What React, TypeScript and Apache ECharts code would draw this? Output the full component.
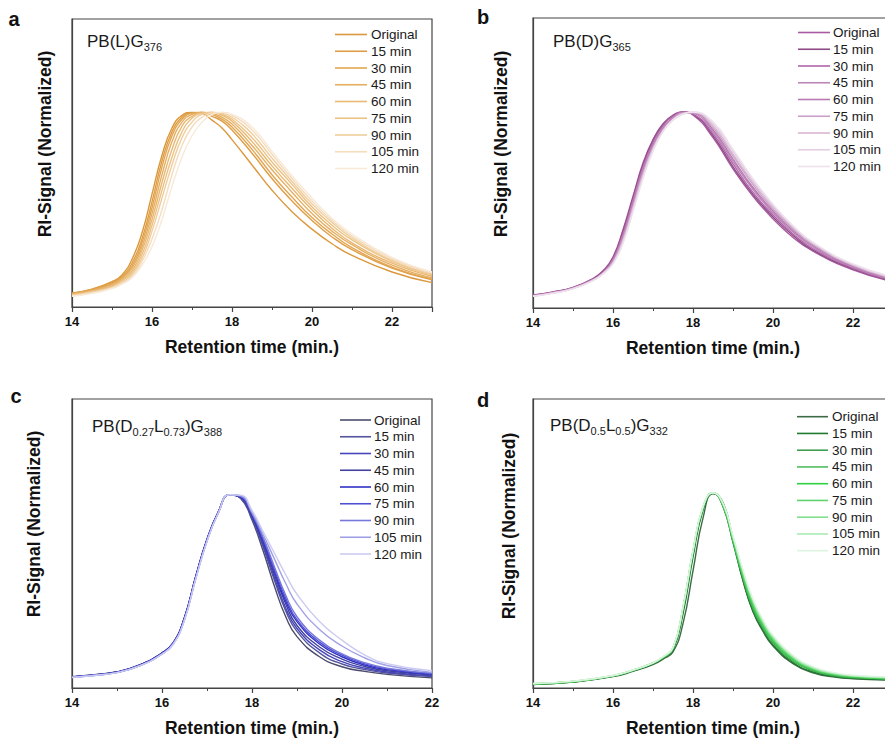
import React, { useEffect, useRef } from 'react';
import * as echarts from 'echarts';

const LEGEND_LABELS = ['Original', '15 min', '30 min', '45 min', '60 min', '75 min', '90 min', '105 min', '120 min'];
const X_TICK_INTERVAL = 2;

// Panel a: PB(L)G376
const A_X = [14, 14.5, 15, 15.25, 15.5, 15.75, 16, 16.25, 16.5, 16.75, 17, 17.25, 17.5, 17.75, 18, 18.5, 19, 19.5, 20, 20.5, 21, 22, 23];
const A_Y = [
  [0.072, 0.092, 0.13, 0.165, 0.245, 0.38, 0.58, 0.78, 0.92, 0.985, 1.0, 0.995, 0.96, 0.92, 0.86, 0.73, 0.6, 0.49, 0.4, 0.325, 0.265, 0.18, 0.125],
  [0.07, 0.09, 0.125, 0.158, 0.225, 0.35, 0.54, 0.75, 0.9, 0.975, 0.998, 1.0, 0.98, 0.955, 0.91, 0.79, 0.66, 0.545, 0.445, 0.36, 0.295, 0.2, 0.14],
  [0.068, 0.088, 0.12, 0.152, 0.21, 0.33, 0.51, 0.72, 0.88, 0.965, 0.995, 1.0, 0.99, 0.965, 0.925, 0.81, 0.68, 0.565, 0.46, 0.375, 0.305, 0.205, 0.145],
  [0.066, 0.085, 0.115, 0.146, 0.198, 0.31, 0.48, 0.68, 0.85, 0.95, 0.99, 1.0, 0.995, 0.975, 0.94, 0.83, 0.705, 0.59, 0.48, 0.39, 0.32, 0.215, 0.15],
  [0.064, 0.082, 0.11, 0.14, 0.186, 0.29, 0.45, 0.64, 0.81, 0.93, 0.98, 0.998, 1.0, 0.985, 0.955, 0.85, 0.725, 0.61, 0.5, 0.405, 0.33, 0.225, 0.158],
  [0.062, 0.079, 0.105, 0.134, 0.175, 0.268, 0.42, 0.6, 0.77, 0.9, 0.97, 0.995, 1.0, 0.99, 0.965, 0.87, 0.745, 0.63, 0.515, 0.42, 0.345, 0.235, 0.165],
  [0.06, 0.076, 0.1, 0.128, 0.166, 0.25, 0.39, 0.56, 0.73, 0.87, 0.95, 0.99, 1.0, 0.995, 0.975, 0.89, 0.765, 0.645, 0.53, 0.435, 0.355, 0.24, 0.17],
  [0.058, 0.073, 0.098, 0.123, 0.157, 0.234, 0.35, 0.5, 0.68, 0.83, 0.925, 0.975, 0.997, 1.0, 0.985, 0.91, 0.785, 0.66, 0.545, 0.445, 0.365, 0.248, 0.175],
  [0.055, 0.07, 0.095, 0.118, 0.15, 0.215, 0.31, 0.45, 0.62, 0.77, 0.88, 0.95, 0.99, 1.0, 0.99, 0.925, 0.8, 0.675, 0.56, 0.455, 0.375, 0.255, 0.18],
];
const A_COLORS = ['#DC983C', '#DF9E45', '#E2A652', '#E5AE60', '#E9B872', '#ECC284', '#F0CD9C', '#F4DCBC', '#F8E9D6'];

// Panel b: PB(D)G365
const B_X = [14, 14.5, 15, 15.5, 15.75, 16, 16.25, 16.5, 16.75, 17, 17.25, 17.5, 17.75, 18, 18.5, 19, 19.5, 20, 20.5, 21, 22, 23];
const B_Y = [
  [0.066, 0.082, 0.105, 0.15, 0.19, 0.26, 0.4, 0.57, 0.74, 0.86, 0.94, 0.985, 1.0, 0.985, 0.87, 0.71, 0.57, 0.455, 0.36, 0.29, 0.195, 0.135],
  [0.065, 0.081, 0.104, 0.148, 0.186, 0.255, 0.39, 0.56, 0.73, 0.855, 0.935, 0.98, 1.0, 0.988, 0.88, 0.72, 0.58, 0.465, 0.37, 0.295, 0.2, 0.138],
  [0.064, 0.08, 0.103, 0.146, 0.183, 0.25, 0.38, 0.55, 0.72, 0.845, 0.93, 0.978, 1.0, 0.99, 0.89, 0.735, 0.59, 0.475, 0.378, 0.302, 0.204, 0.14],
  [0.063, 0.079, 0.102, 0.145, 0.18, 0.245, 0.37, 0.54, 0.71, 0.835, 0.92, 0.972, 0.998, 0.993, 0.9, 0.748, 0.605, 0.485, 0.388, 0.31, 0.208, 0.145],
  [0.063, 0.078, 0.101, 0.144, 0.178, 0.24, 0.36, 0.53, 0.7, 0.83, 0.915, 0.968, 0.996, 0.995, 0.91, 0.76, 0.615, 0.495, 0.396, 0.317, 0.212, 0.148],
  [0.062, 0.077, 0.1, 0.143, 0.177, 0.236, 0.355, 0.52, 0.69, 0.82, 0.91, 0.965, 0.995, 0.997, 0.92, 0.775, 0.63, 0.505, 0.405, 0.323, 0.216, 0.15],
  [0.061, 0.077, 0.1, 0.142, 0.176, 0.232, 0.345, 0.51, 0.68, 0.815, 0.905, 0.962, 0.993, 0.998, 0.93, 0.785, 0.64, 0.515, 0.41, 0.328, 0.22, 0.153],
  [0.06, 0.076, 0.099, 0.141, 0.175, 0.228, 0.338, 0.5, 0.67, 0.807, 0.902, 0.96, 0.99, 1.0, 0.94, 0.8, 0.65, 0.523, 0.417, 0.332, 0.222, 0.156],
  [0.06, 0.075, 0.098, 0.14, 0.175, 0.225, 0.33, 0.49, 0.66, 0.8, 0.9, 0.96, 0.99, 1.0, 0.95, 0.81, 0.66, 0.53, 0.42, 0.335, 0.225, 0.16],
];
const B_COLORS = ['#A9599F', '#8F4B87', '#B066A9', '#BD86B8', '#B879B2', '#CB9FC6', '#D7B6D4', '#E3CDE1', '#EEE1ED'];

// Panel c: PB(D0.27L0.73)G388
const C_X = [14, 14.5, 15, 15.5, 16, 16.25, 16.5, 16.75, 17, 17.25, 17.5, 17.75, 18, 18.25, 18.5, 18.75, 19, 19.5, 20, 20.5, 21, 22];
const C_Y = [
  [0.058, 0.068, 0.083, 0.118, 0.18, 0.232, 0.36, 0.57, 0.76, 0.9, 0.99, 0.97, 0.86, 0.7, 0.52, 0.365, 0.263, 0.16, 0.109, 0.085, 0.07, 0.052],
  [0.057, 0.067, 0.082, 0.117, 0.178, 0.23, 0.358, 0.568, 0.758, 0.9, 0.99, 0.972, 0.87, 0.72, 0.55, 0.395, 0.29, 0.18, 0.123, 0.095, 0.077, 0.058],
  [0.057, 0.067, 0.082, 0.117, 0.179, 0.232, 0.362, 0.572, 0.762, 0.902, 0.99, 0.974, 0.875, 0.73, 0.565, 0.41, 0.305, 0.195, 0.135, 0.102, 0.082, 0.062],
  [0.056, 0.066, 0.081, 0.116, 0.177, 0.229, 0.357, 0.566, 0.757, 0.899, 0.99, 0.976, 0.88, 0.74, 0.58, 0.43, 0.32, 0.21, 0.148, 0.11, 0.088, 0.066],
  [0.056, 0.066, 0.081, 0.116, 0.178, 0.231, 0.36, 0.57, 0.76, 0.9, 0.99, 0.978, 0.885, 0.75, 0.595, 0.445, 0.34, 0.225, 0.16, 0.118, 0.094, 0.07],
  [0.055, 0.065, 0.08, 0.115, 0.176, 0.228, 0.355, 0.565, 0.756, 0.898, 0.99, 0.98, 0.89, 0.76, 0.605, 0.46, 0.35, 0.235, 0.168, 0.124, 0.098, 0.073],
  [0.055, 0.065, 0.08, 0.114, 0.175, 0.227, 0.352, 0.562, 0.754, 0.897, 0.99, 0.982, 0.895, 0.77, 0.62, 0.475, 0.365, 0.245, 0.175, 0.13, 0.102, 0.076],
  [0.054, 0.064, 0.079, 0.113, 0.174, 0.225, 0.35, 0.56, 0.752, 0.896, 0.99, 0.985, 0.9, 0.785, 0.66, 0.535, 0.43, 0.3, 0.215, 0.155, 0.115, 0.08],
  [0.054, 0.064, 0.079, 0.113, 0.173, 0.224, 0.348, 0.558, 0.75, 0.895, 0.99, 0.988, 0.91, 0.8, 0.69, 0.58, 0.48, 0.34, 0.245, 0.17, 0.125, 0.088],
];
const C_COLORS = ['#4C4C6C', '#55559E', '#4646BA', '#43439F', '#3030C6', '#5050D2', '#7777DC', '#A0A0E7', '#CBCBF2'];

// Panel d: PB(D0.5L0.5)G332
const D_X = [14, 15, 16, 16.5, 17, 17.25, 17.5, 17.75, 18, 18.25, 18.5, 18.75, 19, 19.25, 19.5, 19.75, 20, 20.5, 21, 21.5, 22, 23];
const D_Y = [
  [0.018, 0.03, 0.058, 0.085, 0.12, 0.148, 0.185, 0.33, 0.6, 0.87, 0.995, 0.95, 0.76, 0.55, 0.39, 0.29, 0.215, 0.125, 0.078, 0.057, 0.047, 0.04],
  [0.02, 0.031, 0.06, 0.088, 0.125, 0.153, 0.195, 0.38, 0.67, 0.91, 1.0, 0.93, 0.745, 0.55, 0.395, 0.295, 0.22, 0.13, 0.082, 0.06, 0.05, 0.042],
  [0.02, 0.032, 0.061, 0.089, 0.126, 0.155, 0.2, 0.4, 0.69, 0.92, 1.0, 0.93, 0.75, 0.56, 0.405, 0.305, 0.23, 0.137, 0.088, 0.064, 0.053, 0.045],
  [0.021, 0.032, 0.062, 0.09, 0.127, 0.156, 0.202, 0.405, 0.695, 0.922, 1.0, 0.935, 0.755, 0.57, 0.415, 0.315, 0.238, 0.143, 0.092, 0.067, 0.055, 0.047],
  [0.021, 0.033, 0.062, 0.09, 0.127, 0.157, 0.203, 0.41, 0.7, 0.925, 1.0, 0.935, 0.76, 0.575, 0.42, 0.32, 0.243, 0.148, 0.095, 0.07, 0.057, 0.048],
  [0.022, 0.033, 0.063, 0.091, 0.128, 0.158, 0.205, 0.41, 0.7, 0.925, 1.0, 0.94, 0.765, 0.58, 0.43, 0.328, 0.25, 0.152, 0.098, 0.072, 0.059, 0.05],
  [0.022, 0.034, 0.063, 0.091, 0.128, 0.158, 0.205, 0.412, 0.702, 0.926, 1.0, 0.94, 0.77, 0.59, 0.44, 0.335, 0.257, 0.157, 0.101, 0.074, 0.061, 0.052],
  [0.023, 0.034, 0.064, 0.092, 0.129, 0.159, 0.206, 0.415, 0.705, 0.928, 1.0, 0.945, 0.775, 0.6, 0.45, 0.342, 0.263, 0.162, 0.104, 0.076, 0.063, 0.054],
  [0.023, 0.035, 0.064, 0.092, 0.129, 0.16, 0.207, 0.415, 0.705, 0.928, 1.0, 0.945, 0.78, 0.605, 0.455, 0.35, 0.27, 0.167, 0.11, 0.08, 0.065, 0.056],
];
const D_COLORS = ['#3D6B47', '#1F7A2E', '#3FA04F', '#50BD5E', '#2FD040', '#5ED36E', '#82DF8F', '#AAEAB2', '#DDF5E0'];

const FONT = 'Liberation Sans, Arial, Helvetica, sans-serif';

const PANELS = [
  {
    letter: 'a', letterPos: [14, 19], grid: { left: 72, top: 19, width: 360, height: 288 }, xMax: 23,
    xs: A_X, ys: A_Y, colors: A_COLORS, yName: [45, 144],
    legend: { x1: 335, x2: 367, tx: 371, y0: 34.5 },
    label: { x: 87, y: 43, text: '{m|PB(L)G}{s|376}' },
  },
  {
    letter: 'b', letterPos: [483, 17], grid: { left: 533, top: 18, width: 360, height: 290 }, xMax: 23,
    xs: B_X, ys: B_Y, colors: B_COLORS, yName: [501, 144],
    legend: { x1: 798, x2: 830, tx: 833, y0: 32.5 },
    label: { x: 553, y: 43, text: '{m|PB(D)G}{s|365}' },
  },
  {
    letter: 'c', letterPos: [16, 396], grid: { left: 72, top: 399, width: 360, height: 289 }, xMax: 22,
    xs: C_X, ys: C_Y, colors: C_COLORS, yName: [34, 524],
    legend: { x1: 340, x2: 371, tx: 374, y0: 420 },
    label: { x: 92, y: 428, text: '{m|PB(D}{s|0.27}{m|L}{s|0.73}{m|)G}{s|388}' },
  },
  {
    letter: 'd', letterPos: [483, 400], grid: { left: 533, top: 399, width: 360, height: 289 }, xMax: 23,
    xs: D_X, ys: D_Y, colors: D_COLORS, yName: [509, 526],
    legend: { x1: 797, x2: 828, tx: 832, y0: 416.7 },
    label: { x: 550, y: 427, text: '{m|PB(D}{s|0.5}{m|L}{s|0.5}{m|)G}{s|332}' },
  },
];

function buildOption() {
  const grid: any[] = [];
  const xAxis: any[] = [];
  const yAxis: any[] = [];
  const series: any[] = [];
  const graphic: any[] = [];
  const ROW = 16.75;

  PANELS.forEach((p, pi) => {
    grid.push({
      ...p.grid, show: true, borderColor: '#444', borderWidth: 1.2, backgroundColor: 'transparent',
      containLabel: false, outerBoundsMode: 'none',
    });
    xAxis.push({
      type: 'value', gridIndex: pi, min: 14, max: p.xMax, interval: X_TICK_INTERVAL,
      axisLine: { show: true, lineStyle: { color: '#444', width: 1.2 } },
      axisTick: { show: true, inside: false, length: 5, lineStyle: { color: '#444', width: 1.2 } },
      minorTick: { show: true, splitNumber: 2, length: 3, lineStyle: { color: '#444', width: 1 } },
      splitLine: { show: false }, minorSplitLine: { show: false },
      axisLabel: {
        fontSize: 13, fontWeight: 'bold', color: '#111', margin: 8, fontFamily: FONT,
        formatter: (v: number) => (v % 2 === 0 ? String(v) : ''),
      },
      name: 'Retention time (min.)', nameLocation: 'middle', nameGap: 31,
      nameTextStyle: { fontSize: 17.5, fontWeight: 'bold', color: '#111', fontFamily: FONT },
    });
    yAxis.push({
      type: 'value', gridIndex: pi, min: 0, max: 1.48,
      axisLine: { show: true, lineStyle: { color: '#444', width: 1.2 } },
      axisTick: { show: false }, axisLabel: { show: false }, splitLine: { show: false },
    });
    p.ys.forEach((arr, si) => {
      series.push({
        type: 'line', name: `${p.letter}: ${LEGEND_LABELS[si]}`, xAxisIndex: pi, yAxisIndex: pi,
        data: p.xs.map((x, k) => [x, arr[k]]),
        smooth: 0.5, symbol: 'none', showSymbol: false,
        lineStyle: { color: p.colors[si], width: 1.4 },
        itemStyle: { color: p.colors[si] },
        z: 2 + si,
      });
      const y = p.legend.y0 + si * ROW;
      graphic.push({
        type: 'line', shape: { x1: p.legend.x1, y1: y, x2: p.legend.x2, y2: y },
        style: { stroke: p.colors[si], lineWidth: 1.6 }, z: 100,
      });
      graphic.push({
        type: 'text', x: p.legend.tx, y,
        style: { text: LEGEND_LABELS[si], fontSize: 13.5, fontFamily: FONT, fill: '#1a1a1a', verticalAlign: 'middle', align: 'left' },
        z: 100,
      });
    });
    graphic.push({
      type: 'text', x: p.letterPos[0], y: p.letterPos[1],
      style: { text: p.letter, fontSize: 20, fontWeight: 'bold', fontFamily: FONT, fill: '#111', align: 'center', verticalAlign: 'middle' },
    });
    graphic.push({
      type: 'text', x: p.yName[0], y: p.yName[1], rotation: Math.PI / 2,
      style: { text: 'RI-Signal (Normalized)', fontSize: 17.5, fontWeight: 'bold', fontFamily: FONT, fill: '#111', align: 'center', verticalAlign: 'middle' },
    });
    graphic.push({
      type: 'text', x: p.label.x, y: p.label.y - 10,
      style: {
        text: p.label.text, fontFamily: FONT, fill: '#1a1a1a', align: 'left', verticalAlign: 'top',
        rich: {
          m: { fontSize: 17, lineHeight: 20, verticalAlign: 'top', fontFamily: FONT, fill: '#1a1a1a' },
          s: { fontSize: 11, lineHeight: 12, padding: [8, 0, 0, 0], verticalAlign: 'top', fontFamily: FONT, fill: '#1a1a1a' },
        },
      },
      z: 100,
    });
  });

  return { animation: false, backgroundColor: '#ffffff', grid, xAxis, yAxis, series, graphic };
}

export default function App() {
  const ref = useRef<HTMLDivElement>(null);
  useEffect(() => {
    if (!ref.current) return;
    const chart = echarts.init(ref.current, null, { renderer: 'svg' });
    chart.setOption(buildOption() as any);
    return () => chart.dispose();
  }, []);
  return (
    <div
      ref={ref}
      style={{ position: 'fixed', left: 0, top: 0, width: 885, height: 738, background: '#fff', overflow: 'hidden' }}
    />
  );
}
